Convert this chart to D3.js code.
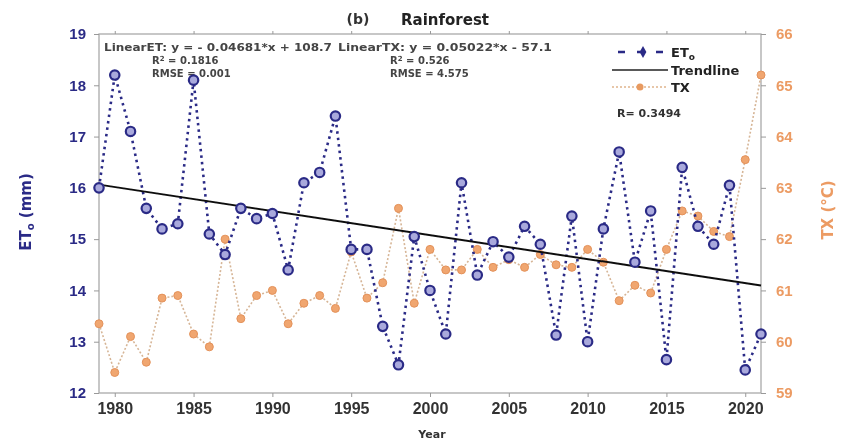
<!DOCTYPE html>
<html>
<head>
<meta charset="utf-8">
<script src="https://d3js.org/d3.v7.min.js"></script>
<style>
body { margin: 0; background: #fff; }
svg { display: block; font-family: 'DejaVu Sans', Verdana, sans-serif; }
.tick line { stroke: #999; }
</style>
</head>
<body>
<svg></svg>
<script>

var width = 852,
    height = 446;

// data
var years = d3.range(1979, 2022);
var etValues = [16.0, 18.2, 17.1, 15.6, 15.2, 15.3, 18.1, 15.1, 14.7, 15.6,
                15.4, 15.5, 14.4, 16.1, 16.3, 17.4, 14.8, 14.8, 13.3, 12.55,
                15.05, 14.0, 13.15, 16.1, 14.3, 14.95, 14.65, 15.25, 14.9, 13.13,
                15.45, 13.0, 15.2, 16.7, 14.55, 15.55, 12.65, 16.4, 15.25, 14.9,
                16.05, 12.45, 13.15];
var txValues = [60.35, 59.4, 60.1, 59.6, 60.85, 60.9, 60.15, 59.9, 62.0, 60.45,
                60.9, 61.0, 60.35, 60.75, 60.9, 60.65, 61.75, 60.85, 61.15, 62.6,
                60.75, 61.8, 61.4, 61.4, 61.8, 61.45, 61.6, 61.45, 61.7, 61.5,
                61.45, 61.8, 61.55, 60.8, 61.1, 60.95, 61.8, 62.55, 62.45, 62.15,
                62.05, 63.55, 65.2];
// LinearET fit from the chart annotation
var trendSlope = -0.04681,
    trendIntercept = 108.7;
var xTicks = [1980, 1985, 1990, 1995, 2000, 2005, 2010, 2015, 2020];
var etTicks = [12, 13, 14, 15, 16, 17, 18, 19];
var txTicks = [59, 60, 61, 62, 63, 64, 65, 66];

var navy = '#2b2b86',
    orange = '#ec9b63';

// plot box (top/left names clash with window props, so prefix them)
var plotL = 99, plotR = 761, plotT = 34, plotB = 393;

var x = d3.scaleLinear().domain([1979, 2021]).range([plotL, plotR]);
var yEt = d3.scaleLinear().domain([12, 19]).range([plotB, plotT]);
var yTx = d3.scaleLinear().domain([59, 66]).range([plotB, plotT]);

var svg = d3.select('svg')
  .attr('width', width)
  .attr('height', height);

// soft blur, the source is a scanned figure
var defs = svg.append('defs');
defs.append('filter').attr('id', 'soft')
  .append('feGaussianBlur').attr('stdDeviation', 0.45);

var g = svg.append('g').attr('filter', 'url(#soft)');

// plot frame
g.append('rect')
  .attr('x', plotL).attr('y', plotT)
  .attr('width', plotR - plotL).attr('height', plotB - plotT)
  .attr('fill', 'none')
  .attr('stroke', '#aaa')
  .attr('stroke-width', 1.3);

// axes
var xAxis = g.append('g')
  .attr('transform', 'translate(0,' + plotB + ')')
  .call(d3.axisBottom(x).tickValues(xTicks).tickFormat(d3.format('d')).tickSize(4).tickPadding(6));
xAxis.select('.domain').remove();
xAxis.selectAll('text')
  .attr('fill', '#333')
  .style('font-size', '16px')
  .style('font-weight', 'bold');

var topTicks = g.append('g')
  .attr('transform', 'translate(0,' + plotT + ')')
  .call(d3.axisTop(x).tickValues(xTicks).tickFormat('').tickSize(3));
topTicks.select('.domain').remove();

var leftAxis = g.append('g')
  .attr('transform', 'translate(' + plotL + ',0)')
  .call(d3.axisLeft(yEt).tickValues(etTicks).tickFormat(d3.format('d')).tickSize(5).tickPadding(8));
leftAxis.select('.domain').remove();
leftAxis.selectAll('text')
  .attr('fill', navy)
  .style('font-size', '15px')
  .style('font-weight', 'bold');

var rightAxis = g.append('g')
  .attr('transform', 'translate(' + plotR + ',0)')
  .call(d3.axisRight(yTx).tickValues(txTicks).tickFormat(d3.format('d')).tickSize(5).tickPadding(10));
rightAxis.select('.domain').remove();
rightAxis.selectAll('text')
  .attr('fill', orange)
  .style('font-size', '15px')
  .style('font-weight', 'bold');

// axis titles
g.append('text')
  .attr('x', (plotL + plotR) / 2 + 2).attr('y', 438)
  .attr('text-anchor', 'middle')
  .attr('fill', '#333')
  .style('font-size', '11px').style('font-weight', 'bold')
  .text('Year');

var etTitle = g.append('text')
  .attr('transform', 'translate(31,212) rotate(-90)')
  .attr('text-anchor', 'middle')
  .attr('fill', navy)
  .style('font-size', '15px').style('font-weight', 'bold');
etTitle.append('tspan').text('ET');
etTitle.append('tspan').attr('baseline-shift', '-30%').style('font-size', '10px').text('o');
etTitle.append('tspan').text(' (mm)');

g.append('text')
  .attr('transform', 'translate(833,210) rotate(-90)')
  .attr('text-anchor', 'middle')
  .attr('fill', orange)
  .style('font-size', '15px').style('font-weight', 'bold')
  .text('TX (°C)');

// title
g.append('text')
  .attr('x', 358).attr('y', 24)
  .attr('text-anchor', 'middle')
  .attr('fill', '#333')
  .style('font-size', '14px').style('font-weight', 'bold')
  .text('(b)');
g.append('text')
  .attr('x', 445).attr('y', 25)
  .attr('text-anchor', 'middle')
  .attr('fill', '#222')
  .style('font-size', '15px').style('font-weight', 'bold')
  .text('Rainforest');

// fit annotations
var note = g.append('g')
  .attr('fill', '#444')
  .style('font-size', '10px')
  .style('font-weight', 'bold');
note.append('text').attr('x', 104).attr('y', 51)
  .attr('textLength', 228).attr('lengthAdjust', 'spacingAndGlyphs')
  .text('LinearET:  y = - 0.04681*x + 108.7');
note.append('text').attr('x', 338).attr('y', 51)
  .attr('textLength', 214).attr('lengthAdjust', 'spacingAndGlyphs')
  .text('LinearTX:  y = 0.05022*x - 57.1');
function rsq(xp, val) {
  var t = note.append('text').attr('x', xp).attr('y', 64);
  t.append('tspan').text('R');
  t.append('tspan').attr('baseline-shift', '40%').style('font-size', '7px').text('2');
  t.append('tspan').text(' = ' + val);
}
rsq(152, '0.1816');
rsq(390, '0.526');
note.append('text').attr('x', 152).attr('y', 77).text('RMSE = 0.001');
note.append('text').attr('x', 390).attr('y', 77).text('RMSE = 4.575');

// trendline
var trend = [1979, 2021].map(function(yr) { return [yr, trendSlope * yr + trendIntercept]; });
var lineEt = d3.line().x(function(d) { return x(d[0]); }).y(function(d) { return yEt(d[1]); });
var lineTx = d3.line().x(function(d) { return x(d[0]); }).y(function(d) { return yTx(d[1]); });

var etData = years.map(function(yr, i) { return [yr, etValues[i]]; });
var txData = years.map(function(yr, i) { return [yr, txValues[i]]; });

// TX series
g.append('path')
  .datum(txData)
  .attr('d', lineTx)
  .attr('fill', 'none')
  .attr('stroke', '#d6b596')
  .attr('stroke-width', 1.6)
  .attr('stroke-dasharray', '2,2');
g.append('g').selectAll('circle')
  .data(txData)
  .enter().append('circle')
  .attr('cx', function(d) { return x(d[0]); })
  .attr('cy', function(d) { return yTx(d[1]); })
  .attr('r', 4)
  .attr('fill', '#f0a66f')
  .attr('stroke', '#e3915a')
  .attr('stroke-width', 1);

// ET series
g.append('path')
  .datum(etData)
  .attr('d', lineEt)
  .attr('fill', 'none')
  .attr('stroke', navy)
  .attr('stroke-width', 2.6)
  .attr('stroke-dasharray', '2.5,4');

g.append('path')
  .datum(trend)
  .attr('d', lineEt)
  .attr('stroke', '#111')
  .attr('stroke-width', 2);

g.append('g').selectAll('circle')
  .data(etData)
  .enter().append('circle')
  .attr('cx', function(d) { return x(d[0]); })
  .attr('cy', function(d) { return yEt(d[1]); })
  .attr('r', 4.7)
  .attr('fill', '#a9a9dc')
  .attr('stroke', navy)
  .attr('stroke-width', 2.2);

// legend
var lg = g.append('g').style('font-size', '13px').style('font-weight', 'bold').attr('fill', '#222');
lg.append('line').attr('x1', 618).attr('x2', 668).attr('y1', 52).attr('y2', 52)
  .attr('stroke', navy).attr('stroke-width', 2.4).attr('stroke-dasharray', '7,12');
lg.append('path').attr('d', d3.symbol(d3.symbolDiamond, 40)())
  .attr('transform', 'translate(643,52)').attr('fill', navy);
var etLab = lg.append('text').attr('x', 671).attr('y', 57);
etLab.append('tspan').text('ET');
etLab.append('tspan').attr('baseline-shift', '-35%').style('font-size', '9px').text('o');

lg.append('line').attr('x1', 612).attr('x2', 668).attr('y1', 70).attr('y2', 70)
  .attr('stroke', '#222').attr('stroke-width', 1.5);
lg.append('text').attr('x', 671).attr('y', 75).text('Trendline');

lg.append('line').attr('x1', 612).attr('x2', 668).attr('y1', 87).attr('y2', 87)
  .attr('stroke', '#e0b48c').attr('stroke-width', 1.5).attr('stroke-dasharray', '2,2');
lg.append('circle').attr('cx', 640).attr('cy', 87).attr('r', 3.5).attr('fill', '#e89a60');
lg.append('text').attr('x', 671).attr('y', 92).text('TX');

lg.append('text').attr('x', 617).attr('y', 117).style('font-size', '11px').attr('fill', '#333')
  .text('R= 0.3494');

</script>
</body>
</html>
